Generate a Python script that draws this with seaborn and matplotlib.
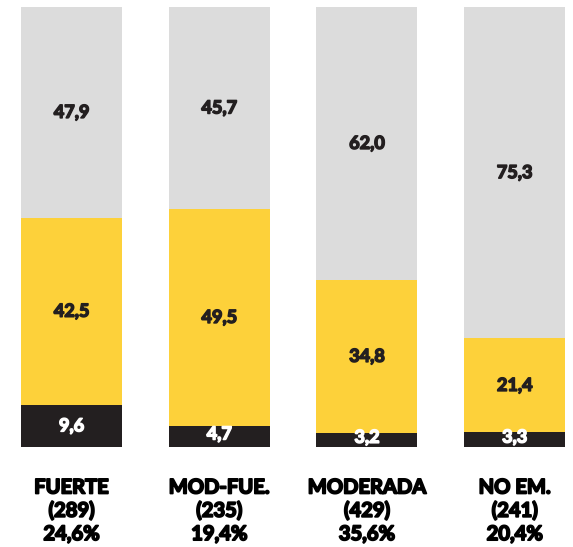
import matplotlib
matplotlib.use("Agg")
import matplotlib.pyplot as plt
import matplotlib.patheffects as pe
import seaborn as sns
import numpy as np
import pandas as pd

categories = ["FUERTE", "MOD-FUE.", "MODERADA", "NO EM."]
counts = ["(289)", "(235)", "(429)", "(241)"]
shares = ["24,6%", "19,4%", "35,6%", "20,4%"]
black_vals = [9.6, 4.7, 3.2, 3.3]
yellow_vals = [42.5, 49.5, 34.8, 21.4]
grey_vals = [47.9, 45.7, 62.0, 75.3]

sns.set_theme(style="white")
plt.rcParams['font.family'] = ['Lato', 'DejaVu Sans']

C_BLACK = "#231f20"
C_YELLOW = "#fdd13a"
C_GREY = "#dcdcdc"

fig = plt.figure(figsize=(5.73, 5.47), dpi=100)
ax = fig.add_axes([0, 100 / 547, 1, 440 / 547])

b = np.array(black_vals)
y = np.array(yellow_vals)
g = np.array(grey_vals)
df = pd.DataFrame({"cat": categories, "total": b + y + g, "mid": b + y, "low": b})

for col, color in [("total", C_GREY), ("mid", C_YELLOW), ("low", C_BLACK)]:
    sns.barplot(data=df, x="cat", y=col, color=color, width=0.684,
                saturation=1, ax=ax, linewidth=0, order=categories)

ax.set_xlim(-0.484, 3.395)
ax.set_ylim(0, 100)
ax.axis("off")

def fmt(v):
    return f"{v:.1f}".replace(".", ",")

def heavy(color, w=1.1):
    return [pe.withStroke(linewidth=w, foreground=color)]

for i in range(4):
    ax.text(i, b[i] / 2 + (0 if b[i] > 5 else 0.6), fmt(b[i]), ha="center", va="center",
            color="white", fontsize=13, fontweight="bold", path_effects=heavy("white"))
    ax.text(i, b[i] + y[i] / 2, fmt(y[i]), ha="center", va="center",
            color=C_BLACK, fontsize=13, fontweight="bold", path_effects=heavy(C_BLACK))
    ax.text(i, b[i] + y[i] + g[i] / 2, fmt(g[i]), ha="center", va="center",
            color=C_BLACK, fontsize=13, fontweight="bold", path_effects=heavy(C_BLACK))
    for k, line in enumerate([categories[i], counts[i], shares[i]]):
        ax.text(i, -9.2 - k * 5.3, line, ha="center", va="center",
                color="black", fontsize=14.5, fontweight="bold", clip_on=False,
                path_effects=heavy("black", 1.3))

fig.savefig("out.png", dpi=100)
